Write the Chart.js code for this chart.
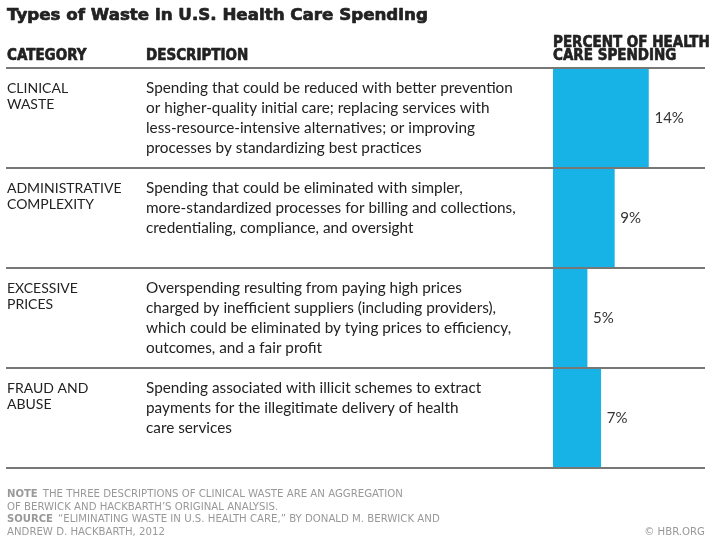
<!DOCTYPE html>
<html>
<head>
<meta charset="utf-8">
<script src="https://cdn.jsdelivr.net/npm/chart.js@4"></script>
<style>
  html, body { margin: 0; padding: 0; background: #fff; }
  #wrap { width: 718px; height: 541px; }
</style>
</head>
<body>
<div id="wrap"><canvas id="chart" width="718" height="541"></canvas></div>
<script>
// chart data
var categories = [
	["CLINICAL", "WASTE"],
	["ADMINISTRATIVE", "COMPLEXITY"],
	["EXCESSIVE", "PRICES"],
	["FRAUD AND", "ABUSE"],
];
var descriptions = [
	[
		"Spending that could be reduced with better prevention",
		"or higher-quality initial care; replacing services with",
		"less-resource-intensive alternatives; or improving",
		"processes by standardizing best practices",
	],
	[
		"Spending that could be eliminated with simpler,",
		"more-standardized processes for billing and collections,",
		"credentialing, compliance, and oversight",
	],
	[
		"Overspending resulting from paying high prices",
		"charged by inefficient suppliers (including providers),",
		"which could be eliminated by tying prices to efficiency,",
		"outcomes, and a fair profit",
	],
	[
		"Spending associated with illicit schemes to extract",
		"payments for the illegitimate delivery of health",
		"care services",
	],
];
var percentValues = [14, 9, 5, 7];

var titleText = "Types of Waste in U.S. Health Care Spending";
var headCategory = "CATEGORY";
var headDescription = "DESCRIPTION";
var headPercent = ["PERCENT OF HEALTH", "CARE SPENDING"];
var noteLines = [
	["NOTE", "THE THREE DESCRIPTIONS OF CLINICAL WASTE ARE AN AGGREGATION"],
	["", "OF BERWICK AND HACKBARTH\u2019S ORIGINAL ANALYSIS."],
	["SOURCE", "\u201CELIMINATING WASTE IN U.S. HEALTH CARE,\u201D BY DONALD M. BERWICK AND"],
	["", "ANDREW D. HACKBARTH, 2012"],
];
var creditText = "\u00A9 HBR.ORG";

var CONDENSED = '"DejaVu Sans Condensed", sans-serif';
var BODY = 'Lato, "Noto Sans", sans-serif';

// bold text with a thin outline to make it a bit heavier
function heavyText(ctx, text, tx, ty) {
	ctx.fillText(text, tx, ty);
	ctx.strokeText(text, tx, ty);
}

var tablePlugin = {
	id: "tableText",
	beforeDatasetsDraw: function (chart) {
		var ctx = chart.ctx;
		ctx.save();
		ctx.fillStyle = "#222";
		ctx.strokeStyle = "#222";
		ctx.lineWidth = 0.7;
		ctx.lineJoin = "round";
		ctx.textBaseline = "alphabetic";
		ctx.textAlign = "left";
		ctx.font = 'bold 16.7px "DejaVu Sans", sans-serif';
		heavyText(ctx, titleText, 7, 19.5);

		ctx.lineWidth = 0.6;
		ctx.font = "bold 15px " + CONDENSED;
		heavyText(ctx, headCategory, 7, 60);
		heavyText(ctx, headDescription, 146, 60);
		heavyText(ctx, headPercent[0], 553, 46.5);
		heavyText(ctx, headPercent[1], 553, 60);
		ctx.restore();
	},
	afterDatasetsDraw: function (chart) {
		var ctx = chart.ctx;
		var x = chart.scales.x;
		var y = chart.scales.y;
		ctx.save();

		// row rules
		ctx.strokeStyle = "#777";
		ctx.lineWidth = 2;
		for (var i = 0; i <= categories.length; i++) {
			var ly = Math.round(y.getPixelForValue(i - 0.5));
			ctx.beginPath();
			ctx.moveTo(6, ly);
			ctx.lineTo(705, ly);
			ctx.stroke();
		}

		for (var r = 0; r < categories.length; r++) {
			var top = y.getPixelForValue(r - 0.5);
			var mid = y.getPixelForValue(r);
			ctx.fillStyle = "#222";
			ctx.textAlign = "left";
			ctx.textBaseline = "alphabetic";

			ctx.font = "14px " + BODY;
			categories[r].forEach(function (t, k) {
				ctx.fillText(t, 7, top + 25 + k * 16);
			});

			ctx.font = "15.3px " + BODY;
			descriptions[r].forEach(function (t, k) {
				ctx.fillText(t, 146, top + 25 + k * 20);
			});

			ctx.textBaseline = "middle";
			ctx.font = "15px " + BODY;
			ctx.fillStyle = "#333";
			ctx.fillText(percentValues[r] + "%", x.getPixelForValue(percentValues[r]) + 6, mid);
		}

		// footnotes
		ctx.textBaseline = "alphabetic";
		ctx.fillStyle = "#999";
		noteLines.forEach(function (ln, k) {
			var ny = 497 + k * 12.5;
			var nx = 7;
			if (ln[0]) {
				ctx.font = "bold 11.2px " + CONDENSED;
				ctx.fillText(ln[0], nx, ny);
				nx += ctx.measureText(ln[0]).width + 5;
			}
			ctx.font = "11.3px " + CONDENSED;
			ctx.fillText(ln[1], nx, ny);
		});
		ctx.textAlign = "right";
		ctx.font = "11.3px " + CONDENSED;
		ctx.fillText(creditText, 705, 534.5);
		ctx.restore();
	},
};

new Chart(document.getElementById("chart"), {
	type: "bar",
	data: {
		labels: categories.map(function (c) { return c.join(" "); }),
		datasets: [
			{
				data: percentValues,
				backgroundColor: "#17b3e6",
				borderWidth: 0,
				categoryPercentage: 1,
				barPercentage: 1,
			},
		],
	},
	options: {
		indexAxis: "y",
		responsive: false,
		animation: false,
		layout: { padding: { left: 553, top: 68, bottom: 73, right: 13 } },
		plugins: { legend: { display: false }, tooltip: { enabled: false } },
		scales: {
			x: { display: false, min: 0, max: 22.3 },
			y: { display: false },
		},
	},
	plugins: [tablePlugin],
});
</script>
</body>
</html>
